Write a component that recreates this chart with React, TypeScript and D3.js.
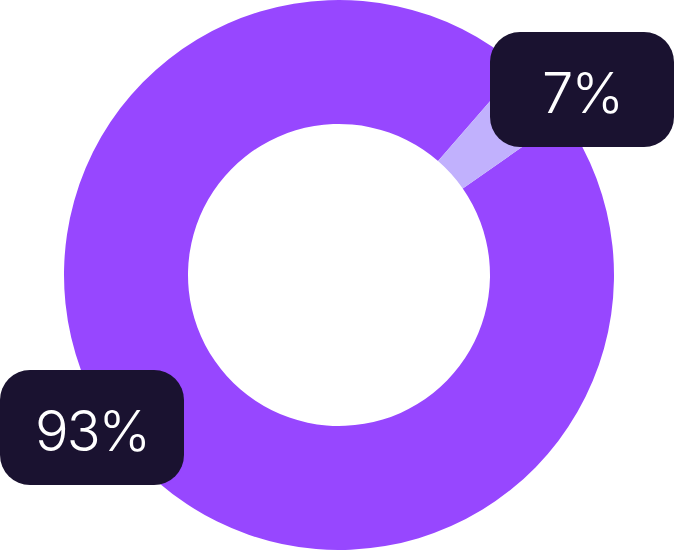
import React, { useRef, useEffect } from 'react';
import * as d3 from 'd3';

// slice shares as drawn (the light slice is narrow in the picture)
const categories = ['rest', 'highlight'];
const shares = [96.1, 3.9];
const labelTexts = ['93%', '7%'];
const sliceColors = ['#9747FF', '#C1B1FD'];

// label boxes: [x, y] top-left corner
const labelBoxes: [number, number][] = [[0, 370], [490, 32]];

const App: React.FC = () => {
    const width = 674;
    const height = 550;
    const cx = 339;
    const cy = 275;
    const outerR = 275;
    const innerR = 151;
    const boxW = 184;
    const boxH = 115;

    const svgRef = useRef<SVGSVGElement>(null);

    useEffect(() => {
        if (!svgRef.current) return;
        const svg = d3.select(svgRef.current);
        svg.selectAll('*').remove();

        const data = categories.map((c, i) => ({ cat: c, value: shares[i], color: sliceColors[i] }));

        // light slice starts at ~41 deg clockwise from 12 o'clock
        const start = (41 * Math.PI) / 180;
        const pie = d3.pie<any>()
            .value(d => d.value)
            .sort(null)
            .startAngle(start - (shares[0] / 100) * 2 * Math.PI)
            .endAngle(start + (shares[1] / 100) * 2 * Math.PI);

        const arc = d3.arc<any>().innerRadius(innerR).outerRadius(outerR);

        const g = svg.append('g').attr('transform', `translate(${cx},${cy})`);
        g.selectAll('path')
            .data(pie(data))
            .enter()
            .append('path')
            .attr('d', arc)
            .attr('fill', d => d.data.color);

        const labels = svg.selectAll('.label')
            .data(labelTexts)
            .enter()
            .append('g')
            .attr('class', 'label')
            .attr('transform', (d, i) => `translate(${labelBoxes[i][0]},${labelBoxes[i][1]})`);

        labels.append('rect')
            .attr('width', boxW)
            .attr('height', boxH)
            .attr('rx', 30)
            .attr('fill', '#1A1230');

        labels.append('text')
            .attr('x', boxW / 2)
            .attr('y', boxH / 2 + 23)
            .attr('text-anchor', 'middle')
            .attr('fill', '#ffffff')
            .attr('font-family', 'Inter, sans-serif')
            .attr('font-weight', 300)
            .attr('font-size', 56)
            .attr('letter-spacing', -2)
            .text(d => d);
    }, []);

    return (
        <svg ref={svgRef} width={width} height={height}
            style={{ position: 'absolute', left: 0, top: 0, background: '#ffffff' }} />
    );
};

export default App;
